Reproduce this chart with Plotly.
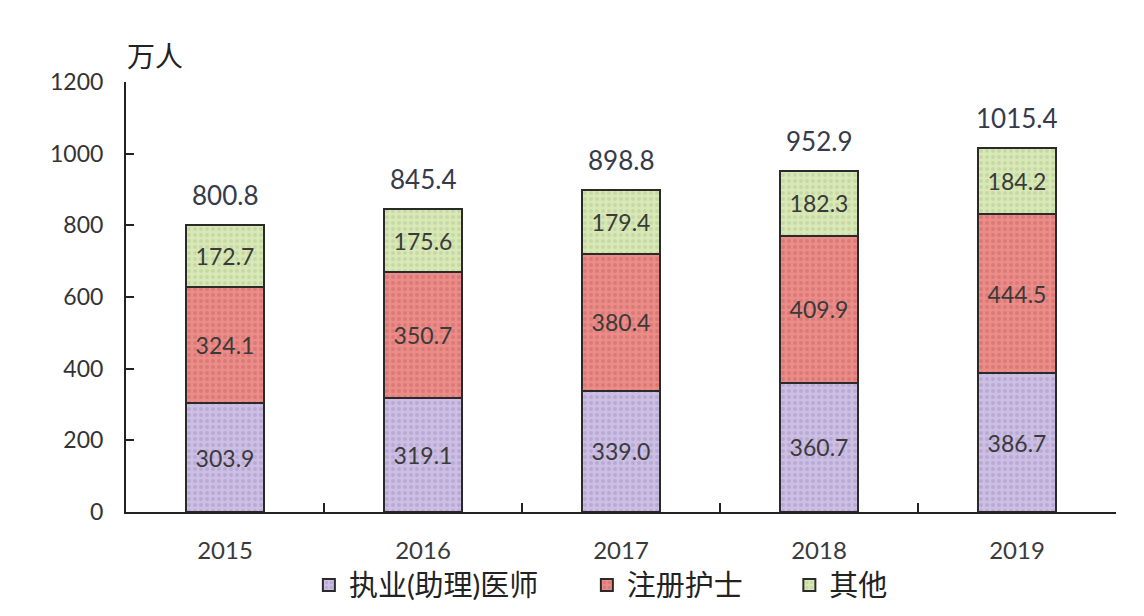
import plotly.graph_objects as go

years = ["2015", "2016", "2017", "2018", "2019"]
doctors = [303.9, 319.1, 339.0, 360.7, 386.7]
nurses = [324.1, 350.7, 380.4, 409.9, 444.5]
others = [172.7, 175.6, 179.4, 182.3, 184.2]
totals = [800.8, 845.4, 898.8, 952.9, 1015.4]
series_names = ["执业(助理)医师", "注册护士", "其他"]

FONT = "Lato, 'Noto Sans CJK SC', sans-serif"
colors = ["#cdbfe4", "#ec8c88", "#d9e9b6"]
fgcolors = ["#a494c6", "#c86664", "#b4c894"]
legend_ids = ["legend", "legend2", "legend3"]
legend_x = [0.270, 0.513, 0.690]

fig = go.Figure()
for name, vals, c, fc, lg in zip(series_names, [doctors, nurses, others], colors, fgcolors, legend_ids):
    fig.add_trace(go.Bar(
        x=years, y=vals, name=name, legend=lg,
        marker=dict(color=c, line=dict(color="#2a2a2a", width=2),
                    pattern=dict(shape=".", fgcolor=fc, bgcolor=c, size=6, solidity=0.35)),
        texttemplate="%{y:.1f}", textposition="inside", insidetextanchor="middle",
        textangle=0, textfont=dict(size=23, color="#3a3a3a", family=FONT),
    ))

# category positions for the total labels (index along the category axis)
for i, t in enumerate(totals):
    fig.add_annotation(x=i, y=t, xref="x", yref="y", text=f"{t:.1f}", showarrow=False,
                       yshift=30, font=dict(size=26, color="#363a4a", family=FONT))

fig.add_annotation(xref="paper", yref="paper", x=0.0, y=1.0, xanchor="left", yanchor="bottom",
                   yshift=7, xshift=-1, text="万人", showarrow=False,
                   font=dict(size=28, color="#222222", family=FONT))

legend_common = dict(orientation="h", xref="container", xanchor="left", yref="container",
                     y=0.05, yanchor="middle", bgcolor="rgba(0,0,0,0)",
                     font=dict(size=29, color="#222222", family=FONT))
layout_legends = {}
for lg, lx in zip(legend_ids, legend_x):
    layout_legends[lg] = dict(legend_common, x=lx)

fig.update_layout(
    barmode="stack",
    bargap=0.61,
    width=1144, height=616,
    margin=dict(l=126, r=28, t=82, b=104, autoexpand=False),
    paper_bgcolor="white", plot_bgcolor="white",
    font=dict(family=FONT, color="#333333"),
    showlegend=True,
    **layout_legends,
)
fig.update_yaxes(range=[0, 1200], dtick=200, showgrid=False, zeroline=False,
                 showline=True, linecolor="#222222", linewidth=2,
                 ticks="inside", ticklen=8, tickcolor="#222222", tickwidth=2,
                 tickfont=dict(size=23, color="#333333"), ticklabelstandoff=16)
fig.update_xaxes(type="category", range=[-0.5, 4.5], showgrid=False, showline=True,
                 linecolor="#222222", linewidth=2,
                 ticks="inside", tickson="boundaries", ticklen=9, tickwidth=2,
                 tickcolor="#222222", ticklabelstandoff=16,
                 tickfont=dict(size=24, color="#3a3a3a"))

fig.write_html("out.html")
